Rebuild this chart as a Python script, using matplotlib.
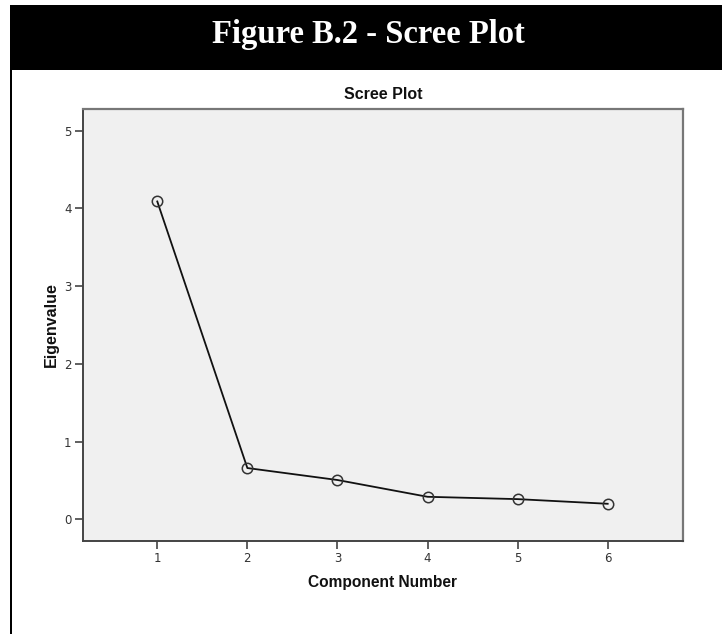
import matplotlib
matplotlib.use("Agg")
import matplotlib.pyplot as plt
from matplotlib.patches import Rectangle

components = [1, 2, 3, 4, 5, 6]
eigenvalues = [4.09, 0.66, 0.506, 0.29, 0.26, 0.20]
yticks = [0, 1, 2, 3, 4, 5]

header_text = "Figure B.2 - Scree Plot"
chart_title = "Scree Plot"
xlabel = "Component Number"
ylabel = "Eigenvalue"

W, H = 722, 634
fig = plt.figure(figsize=(W / 100, H / 100), dpi=100)
fig.patch.set_facecolor("white")

# Header bar
fig.patches.append(Rectangle((10 / W, 1 - 70 / H), 1 - 10 / W, 65 / H,
                             transform=fig.transFigure, facecolor="black",
                             edgecolor="none", zorder=0))
# Left border line
fig.patches.append(Rectangle((10 / W, 0), 2.3 / W, 1 - 70 / H,
                             transform=fig.transFigure, facecolor="black",
                             edgecolor="none", zorder=0))
fig.text(368 / W, 1 - 35 / H, header_text, color="white",
         family="Liberation Serif", weight="bold", fontsize=23.5,
         ha="center", va="center")

ax = fig.add_axes([82.7 / W, 1 - 540.7 / H, (683 - 82.7) / W, (540.7 - 109) / H])
ax.set_facecolor("#f0f0f0")
ax.plot(components, eigenvalues, color="#111111", lw=1.3,
        marker="o", markersize=7.5, markerfacecolor="none",
        markeredgecolor="#333333", markeredgewidth=1.1, zorder=3)

ax.set_xlim(0.172, 6.836)
ax.set_ylim(-0.275, 5.28)
ax.set_xticks(components)
ax.set_yticks(yticks)
ax.tick_params(axis="both", direction="out", length=6, width=1.2,
               color="#444444", labelcolor="#333333", labelsize=8.5,
               pad=2)
for side in ["left", "bottom"]:
    ax.spines[side].set_color("#444444")
    ax.spines[side].set_linewidth(1.4)
for side in ["top", "right"]:
    ax.spines[side].set_color("#777777")
    ax.spines[side].set_linewidth(1.6)

ax.set_title(chart_title, family="Liberation Sans", weight="bold",
             fontsize=11.5, color="#111111", pad=7)
ax.set_xlabel(xlabel, family="Liberation Sans", weight="bold",
              fontsize=11.2, color="#111111", labelpad=7)
ax.set_ylabel(ylabel, family="Liberation Sans", weight="bold",
              fontsize=11.5, color="#111111", labelpad=4)

fig.savefig("out.png", dpi=100)
